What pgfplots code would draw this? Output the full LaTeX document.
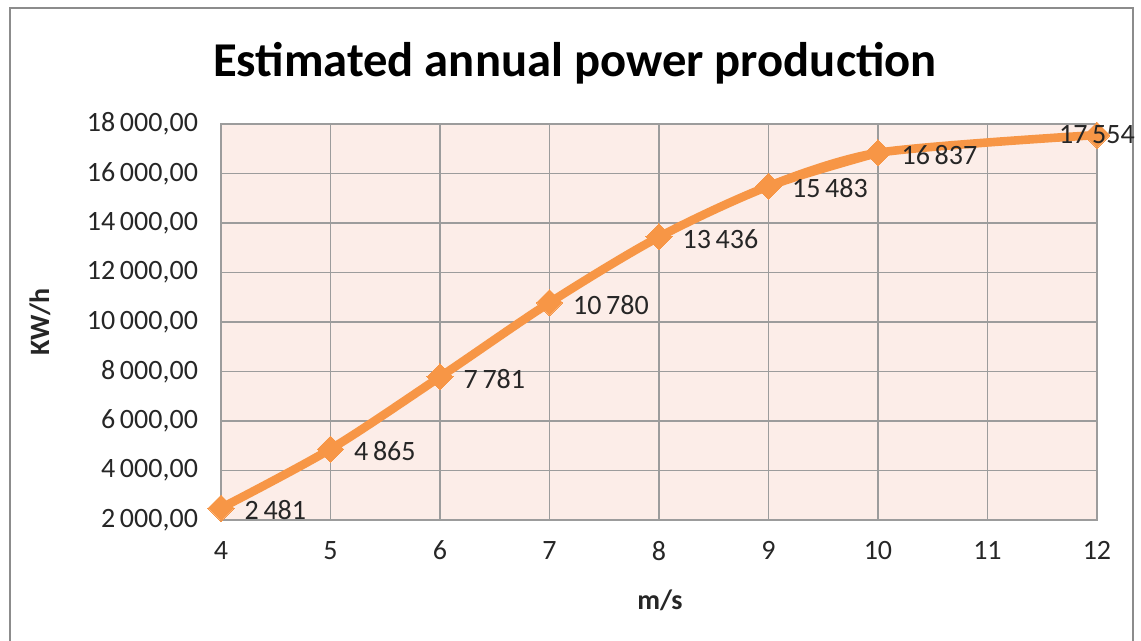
\documentclass[border=0pt]{standalone}
\usepackage{fontspec}
\setmainfont{Carlito}
\usepackage{pgfplots}
\pgfplotsset{compat=1.18}
\definecolor{lineor}{HTML}{F79646}
\definecolor{bgpink}{HTML}{FCEDE8}
\definecolor{gridgray}{HTML}{9C9C9C}
\definecolor{framegray}{HTML}{8C8C8C}
\begin{document}
\begin{tikzpicture}
\useasboundingbox (0pt,0pt) rectangle (570.5pt,320.5pt);
\begin{scope}
\clip (0pt,0pt) rectangle (570.5pt,320.5pt);
\draw[framegray,line width=1.3pt] (5pt,-5pt) rectangle (566.5pt,316.5pt);
\end{scope}
\begin{axis}[
  at={(110.5pt,60.5pt)}, anchor=south west,
  scale only axis, width=438pt, height=198pt,
  xmin=4, xmax=12, ymin=2000, ymax=18000,
  xtick={4,5,...,12}, ytick={2000,4000,...,18000},
  scaled y ticks=false, scaled x ticks=false,
  axis background/.style={fill=bgpink},
  grid=major, major grid style={gridgray,line width=0.6pt},
  axis line style={gridgray,line width=0.6pt},
  tick style={draw=none},
  /pgf/number format/assume math mode=true,
  yticklabel={\pgfmathprintnumber[fixed,fixed zerofill,precision=2,use comma,1000 sep={\,}]{\tick}},
  xticklabel={\pgfmathprintnumber{\tick}},
  ticklabel style={font=\fontsize{14}{16}\selectfont, text=black!85},
  yticklabel style={xshift=-8pt},
  xticklabel style={yshift=-7pt},
  clip=false,
]
\addplot[lineor, line width=4.3pt, smooth, tension=0.5, mark=square*, mark size=4.6pt, mark options={fill=lineor, draw=lineor, line width=0pt, rotate=45},
  nodes near coords={\pgfmathprintnumber[fixed,precision=0,1000 sep={\,}]{\pgfplotspointmeta}},
  point meta=explicit,
  every node near coord/.append style={anchor=west, xshift=8.5pt, yshift=-1pt, text=black!85, font=\fontsize{14}{16}\selectfont}]
 coordinates {(4,2481)[2481] (5,4865)[4865] (6,7781)[7781] (7,10780)[10780] (8,13436)[13436] (9,15483)[15483] (10,16837)[16837]};
\addplot[lineor, line width=4.3pt, smooth, tension=0.5, forget plot]
 coordinates {(9,15483) (10,16837) (12,17554)};
\addplot[only marks, mark=square*, mark size=4.6pt, mark options={fill=lineor, draw=lineor, line width=0pt, rotate=45},
  nodes near coords={\pgfmathprintnumber[fixed,precision=0,1000 sep={\,}]{\pgfplotspointmeta}},
  point meta=explicit,
  every node near coord/.append style={anchor=center, xshift=0pt, yshift=0pt, text=black!85, font=\fontsize{14}{16}\selectfont}]
 coordinates {(12,17554)[17554]};
\end{axis}
\node[font=\fontsize{24.3}{28}\selectfont\bfseries] at (287.5pt,289pt) {Estimated annual power production};
\node[font=\fontsize{14}{16}\selectfont\bfseries, rotate=90, text=black!85] at (20pt,159.5pt) {KW/h};
\node[font=\fontsize{14}{16}\selectfont\bfseries, text=black!85] at (330pt,20.5pt) {m/s};
\end{tikzpicture}
\end{document}
